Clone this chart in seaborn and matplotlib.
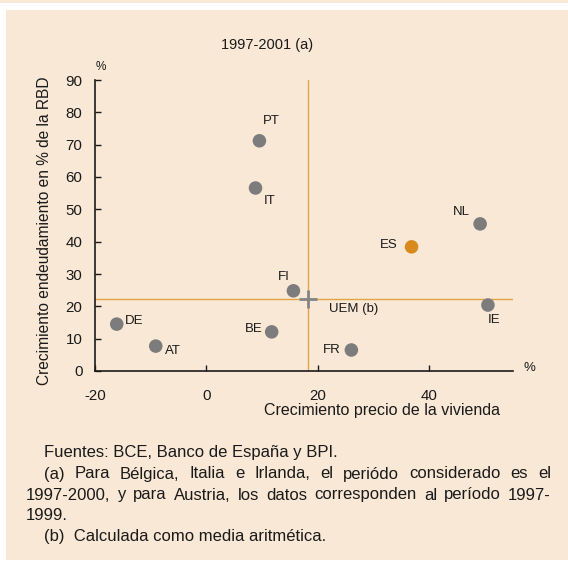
import matplotlib
matplotlib.use("Agg")
import numpy as np
import pandas as pd
import seaborn as sns
import matplotlib.pyplot as plt
from matplotlib.patches import Rectangle

# datos
paises = ["PT", "IT", "NL", "ES", "FI", "IE", "BE", "FR", "DE", "AT"]
precio_vivienda = [9.5, 8.8, 49.1, 36.8, 15.6, 50.5, 11.7, 26.0, -16.1, -9.1]
endeudamiento = [71.2, 56.6, 45.5, 38.4, 24.8, 20.4, 12.1, 6.5, 14.5, 7.7]
uem_precio = 18.3
uem_endeud = 22.2
x_ticks = [-20, 0, 20, 40]
y_ticks = [0, 10, 20, 30, 40, 50, 60, 70, 80, 90]

titulo = "1997-2001 (a)"
x_label = "Crecimiento precio de la vivienda"
y_label = "Crecimiento endeudamiento en % de la RBD"
notas = [
    ("Fuentes: BCE, Banco de España y BPI.", 44, None),
    ("(a)  Para Bélgica, Italia e Irlanda, el periódo considerado es el", 44, 551),
    ("1997-2000, y para Austria, los datos corresponden al período 1997-", 26, 551),
    ("1999.", 26, None),
    ("(b)  Calculada como media aritmética.", 44, None),
]
notas_y = [453, 474, 495, 516, 537]

# desplazamiento de etiquetas (pixeles)
offsets = {"PT": (12, 20), "IT": (14, -13), "NL": (-19, 12), "ES": (-23, 2),
           "FI": (-10, 14), "IE": (6, -15), "BE": (-18, 3), "FR": (-20, 0),
           "DE": (17, 3), "AT": (17, -5)}

BG = "#F8E8D5"
GRIS = "#7C7C7C"
NARANJA = "#D88A1C"
LINEA = "#E3A447"
TXT = "#1a1a1a"

W, H = 568, 561

sns.set_theme(style="ticks")
plt.rcParams["font.family"] = ["Liberation Sans", "DejaVu Sans"]
plt.rcParams["axes.unicode_minus"] = False

fig = plt.figure(figsize=(W / 100, H / 100), dpi=100)
fig.patch.set_facecolor("white")
fig.patches.append(Rectangle((0, 1 - 3 / H), 1, 3 / H, transform=fig.transFigure,
                             facecolor=BG, edgecolor="none", zorder=-10))
fig.patches.append(Rectangle((6 / W, 1 / H), 1, 1 - 11 / H, transform=fig.transFigure,
                             facecolor=BG, edgecolor="none", zorder=-10))

def fx(px):
    return px / W

def fy(py):
    return 1 - py / H

ax = fig.add_axes([fx(95), fy(371), fx(513) - fx(95), fy(80) - fy(371)])
ax.set_facecolor("none")

df = pd.DataFrame({"pais": paises, "precio": precio_vivienda, "endeud": endeudamiento})
df["grupo"] = np.where(df["pais"] == "ES", "ES", "otros")

ax.axvline(uem_precio, color=LINEA, lw=1, zorder=1)
ax.axhline(uem_endeud, color=LINEA, lw=1, zorder=1)

sns.scatterplot(data=df, x="precio", y="endeud", hue="grupo",
                palette={"ES": NARANJA, "otros": GRIS}, s=95, edgecolor="none",
                legend=False, ax=ax, zorder=3, clip_on=False)
ax.plot([uem_precio], [uem_endeud], marker="+", ms=13, mew=2, color="#858585",
        zorder=4, clip_on=False)

for p, x, y in zip(paises, precio_vivienda, endeudamiento):
    dx, dy = offsets[p]
    ax.annotate(p, (x, y), xytext=(dx * 0.72, dy * 0.72), textcoords="offset points",
                ha="center", va="center", fontsize=9.5, color=TXT)
ax.annotate("UEM (b)", (uem_precio, uem_endeud), xytext=(45 * 0.72, -10 * 0.72),
            textcoords="offset points", ha="center", va="center", fontsize=9.5,
            color=TXT)

ax.set_xlim(-20, 55)
ax.set_ylim(0, 90)
ax.set_xticks(x_ticks)
ax.set_yticks(y_ticks)
ax.set_xlabel("")
ax.set_ylabel("")
sns.despine(ax=ax)
for s in ["left", "bottom"]:
    ax.spines[s].set_color(TXT)
    ax.spines[s].set_linewidth(1.2)
ax.tick_params(axis="both", direction="in", length=4, width=1, color=TXT,
               labelsize=10.8, labelcolor=TXT)
ax.tick_params(axis="x", pad=13)
ax.tick_params(axis="y", pad=9)

fig.text(fx(267), fy(45), titulo, ha="center", va="center", fontsize=10.5, color=TXT)
fig.text(fx(45), fy(231), y_label, ha="center", va="center", rotation=90, fontsize=11.2,
         color=TXT)
fig.text(fx(382), fy(411), x_label, ha="center", va="center", fontsize=11.5, color=TXT)
fig.text(fx(101), fy(67), "%", ha="center", va="center", fontsize=8.5, color=TXT)
fig.text(fx(529), fy(368), "%", ha="center", va="center", fontsize=9.5, color=TXT)

# notas al pie, justificadas
renderer = fig.canvas.get_renderer()
for (linea, x0, x1), py in zip(notas, notas_y):
    yy = fy(py)
    if x1 is None:
        fig.text(fx(x0), yy, linea, ha="left", va="center", fontsize=12, color=TXT)
        continue
    palabras = linea.replace("  ", " ").split(" ")
    arts = [fig.text(0, yy, w, ha="left", va="center", fontsize=12, color=TXT)
            for w in palabras]
    anchos = [a.get_window_extent(renderer).width for a in arts]
    hueco = (x1 - x0 - sum(anchos)) / (len(palabras) - 1)
    xp = x0
    for a, w in zip(arts, anchos):
        a.set_x(fx(xp))
        xp += w + hueco

fig.savefig("out.png", dpi=100)
